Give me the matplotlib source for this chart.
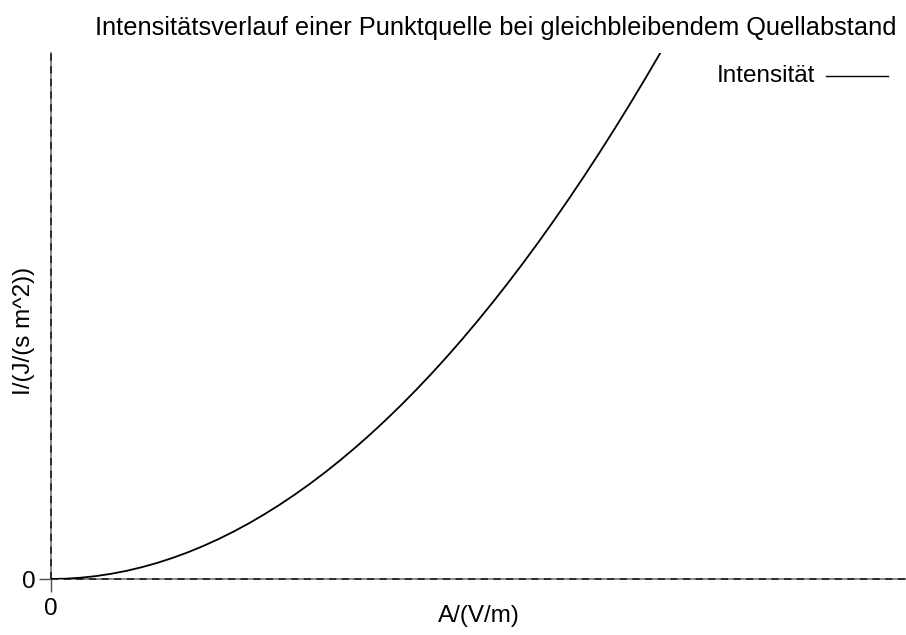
import matplotlib.pyplot as plt

plt.rcParams['font.family'] = ['Liberation Sans', 'DejaVu Sans']

# Amplitude (beliebige Einheit) und Intensitaet
A = [0, 0.25, 0.5, 0.75, 1, 1.25, 1.5, 1.75, 2, 2.25, 2.5, 2.75, 3, 3.25,
     3.5, 3.75, 4, 4.25, 4.5, 4.75, 5, 5.25, 5.5, 5.75, 6, 6.25, 6.5, 6.75,
     7, 7.25, 7.5, 7.75, 8, 8.25, 8.5, 8.75, 9, 9.25, 9.5, 9.75, 10, 10.25]
I = [0, 0.06, 0.25, 0.56, 1, 1.56, 2.25, 3.06, 4, 5.06, 6.25, 7.56, 9, 10.56,
     12.25, 14.06, 16, 18.06, 20.25, 22.56, 25, 27.56, 30.25, 33.06, 36, 39.06,
     42.25, 45.56, 49, 52.56, 56.25, 60.06, 64, 68.06, 72.25, 76.56, 81, 85.56,
     90.25, 95.06, 100, 105.06]
xtick_labels = ['0']
ytick_labels = ['0']

fs = 17.5

fig = plt.figure(figsize=(9.06, 6.35), dpi=100)
ax = fig.add_axes([50.5/906, 56/635, 855.5/906, 526/635])
ax.set_xlim(0, 14.03)
ax.set_ylim(0, 100)

for s in ax.spines.values():
    s.set_visible(False)

# Nullachsen, gestrichelt
for kw in [dict(color='0.5', lw=1.3), dict(color='0.15', lw=1.3, dashes=(4, 3))]:
    ax.axhline(0, clip_on=False, **kw)
    ax.axvline(0, clip_on=False, **kw)

ax.plot(A, I, color='black', lw=1.3, label='Intensität')

ax.set_xticks([0])
ax.set_xticklabels(xtick_labels, fontsize=fs)
ax.set_yticks([0])
ax.set_yticklabels(ytick_labels, fontsize=fs)
ax.tick_params(length=9, width=1, color='0.3', pad=2)
ax.tick_params(axis='x', pad=5)

fig.text(496/906, 1 - 28/635, 'Intensitätsverlauf einer Punktquelle bei gleichbleibendem Quellabstand',
         ha='center', va='center', fontsize=18.3)
fig.text(479/906, 1 - 616/635, 'A/(V/m)', ha='center', va='center', fontsize=fs)
fig.text(24/906, 1 - 331/635, 'I/(J/(s m^2))', ha='center', va='center',
         rotation=90, fontsize=fs)

# Legende
fig.text(815/906, 1 - 76/635, 'Intensität', ha='right', va='center', fontsize=fs)
fig.add_artist(plt.Line2D([826/906, 888/906], [1 - 76/635, 1 - 76/635],
                          color='black', lw=1.0, transform=fig.transFigure))

fig.savefig('out.png', dpi=100)
